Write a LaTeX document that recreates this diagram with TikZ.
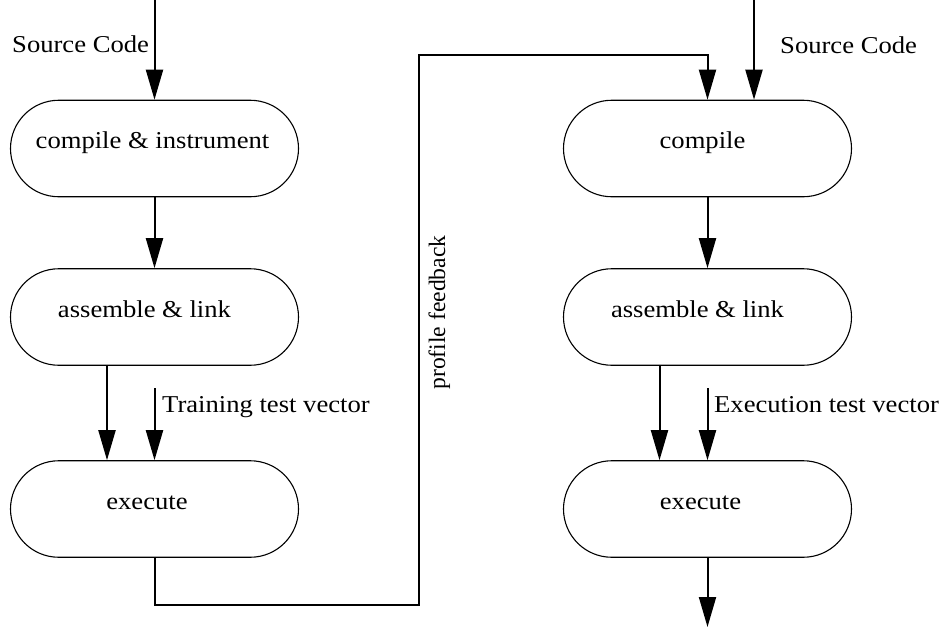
\documentclass[tikz,border=0pt]{standalone}
\usepackage{fontspec}
\setmainfont{Liberation Serif}[FakeStretch=1.1]
\newfontfamily\plainserif{Liberation Serif}
\usetikzlibrary{arrows.meta,shapes.misc}

\begin{document}
\begin{tikzpicture}[x=1pt,y=-1pt,
  font=\fontsize{24.2}{28}\selectfont,
  stadium/.style={draw, line width=1.1pt, rounded rectangle,
    minimum width=288pt, minimum height=96.5pt, inner sep=0pt,
    text height=9pt, text depth=9pt},
  flow/.style={line width=2pt, -{Triangle[length=30pt,width=17pt]}},
  lbl/.style={anchor=base west, inner sep=0pt}]
\useasboundingbox (0,0) rectangle (942,627);

% training run (left column)
\node[stadium] (c1) at (154.5,148.5) {\hspace*{-4pt}compile \& instrument};
\node[stadium] (a1) at (154.5,317) {\hspace*{-20pt}assemble \& link};
\node[stadium] (e1) at (154.5,509) {\hspace*{-15pt}execute};

% optimised run (right column)
\node[stadium] (c2) at (707.5,148.5) {\hspace*{-10pt}compile};
\node[stadium] (a2) at (707.5,317) {\hspace*{-20pt}assemble \& link};
\node[stadium] (e2) at (707.5,509) {\hspace*{-14pt}execute};

% free ends of the connectors
\coordinate (s1) at (154.5,0);
\coordinate (s2) at (754,0);
\coordinate (t1) at (154.5,388);
\coordinate (t2) at (707.5,388);
\coordinate (fbA) at (418.5,605);
\coordinate (fbB) at (418.5,54.5);
\coordinate (out) at (707.5,627);

% connectors
\draw[flow] (s1) -- (c1.north);
\draw[flow] (c1.south) -- (a1.north);
\draw[flow] ([xshift=-47.5pt]a1.south) -- ([xshift=-47.5pt]e1.north);
\draw[flow] (t1) -- (e1.north);
\draw[flow] (e1.south) |- (fbA) -- (fbB) -| (c2.north);
\draw[flow] (s2) -- (s2 |- c2.north);
\draw[flow] (c2.south) -- (a2.north);
\draw[flow] ([xshift=-48pt]a2.south) -- ([xshift=-48pt]e2.north);
\draw[flow] (t2) -- (e2.north);
\draw[flow] (e2.south) -- (out);

% labels
\node[lbl] (src1) at (12,52) {Source Code};
\node[lbl] (src2) at (780,53) {Source Code};
\node[lbl] (tv1) at (162,412.5) {Training test vector};
\node[lbl] (tv2) at (714,412.5) {Execution test vector};
\node[anchor=base, inner sep=0pt, rotate=90,
      font=\plainserif\fontsize{23.6}{28}\selectfont] (fb) at (445,312.5) {profile feedback};
\end{tikzpicture}
\end{document}
